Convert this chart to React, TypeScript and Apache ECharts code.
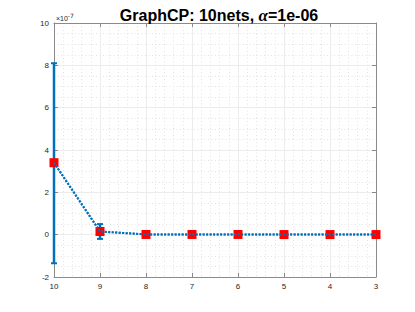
import React, { useEffect, useRef } from "react";
import * as echarts from "echarts";

const xValues = [10, 9, 8, 7, 6, 5, 4, 3];
const means = [3.4, 0.15, 0.01, 0.01, 0.01, 0.005, 0.005, 0.005];
const lowers = [-1.35, -0.2, 0.0, 0.0, 0.0, 0.0, 0.0, 0.0];
const uppers = [8.1, 0.5, 0.02, 0.02, 0.02, 0.01, 0.01, 0.01];
const yTicks = [-2, 0, 2, 4, 6, 8, 10];
const yExponent = "-7";

const BLUE = "#0072BD";
const AXIS = "#262626";

export default function App() {
  const ref = useRef<HTMLDivElement>(null);
  useEffect(() => {
    if (!ref.current) return;
    const chart = echarts.init(ref.current, null, { renderer: "svg" });
    const axisCommon = {
      axisLine: { show: true, onZero: false, lineStyle: { color: "#8a8a8a", width: 1 } },
      axisTick: { show: true, inside: true, length: 4, lineStyle: { color: "#8a8a8a" } },
    };
    const minorStyle = { color: "#e2e2e2", type: [1, 2.5], width: 1 };
    chart.setOption({
      animation: false,
      title: {
        text: "{b|GraphCP: 10nets, }{i|α}{b|=1e-06}",
        left: 214,
        textAlign: "center",
        top: 2,
        textStyle: {
          rich: {
            b: { fontFamily: "Liberation Sans", fontWeight: "bold", fontSize: 16, color: "#000" },
            i: { fontFamily: "Liberation Serif", fontStyle: "italic", fontWeight: "bold", fontSize: 17, color: "#000" },
          },
        },
      },
      grid: { left: 54, right: 39, top: 23, bottom: 35 },
      xAxis: [
        {
          type: "value",
          min: 3,
          max: 10,
          interval: 1,
          inverse: true,
          ...axisCommon,
          axisLabel: { color: AXIS, fontSize: 8, fontFamily: "Liberation Sans", margin: 5 },
          splitLine: { show: true, lineStyle: { color: "#ececec", width: 1 } },
          minorTick: { show: false, splitNumber: 5 },
          minorSplitLine: { show: true, lineStyle: minorStyle },
        },
        {
          type: "value",
          position: "top",
          min: 3,
          max: 10,
          interval: 1,
          inverse: true,
          ...axisCommon,
          axisLabel: { show: false },
          splitLine: { show: false },
        },
      ],
      yAxis: [
        {
          type: "value",
          min: -2,
          max: 10,
          interval: 2,
          ...axisCommon,
          axisLabel: {
            color: AXIS,
            fontSize: 8,
            fontFamily: "Liberation Sans",
            margin: 5,
            formatter: (v: number) => (yTicks.includes(v) ? String(v) : ""),
          },
          splitLine: { show: true, lineStyle: { color: "#ececec", width: 1 } },
          minorTick: { show: false, splitNumber: 4 },
          minorSplitLine: { show: true, lineStyle: minorStyle },
        },
        {
          type: "value",
          position: "right",
          min: -2,
          max: 10,
          interval: 2,
          ...axisCommon,
          axisLabel: { show: false },
          splitLine: { show: false },
        },
      ],
      graphic: [
        {
          type: "text",
          left: 56,
          top: 12,
          style: {
            text: "{a|×10}{s|" + yExponent + "}",
            rich: {
              a: { fontSize: 7, fontFamily: "Liberation Sans", fill: AXIS, verticalAlign: "bottom" },
              s: { fontSize: 6, fontFamily: "DejaVu Sans", fill: AXIS, verticalAlign: "top", padding: [0, 0, 4, 0] },
            },
          },
        },
      ],
      series: [
        {
          type: "custom",
          clip: false,
          z: 3,
          data: xValues.map((x, i) => [x, lowers[i], uppers[i]]),
          renderItem: (params: any, api: any) => {
            const x = api.value(0);
            const lo = api.coord([x, api.value(1)]);
            const hi = api.coord([x, api.value(2)]);
            const cw = 3;
            const st = { stroke: BLUE, lineWidth: 2 };
            return {
              type: "group",
              children: [
                { type: "line", shape: { x1: lo[0], y1: lo[1], x2: hi[0], y2: hi[1] }, style: { ...st, lineWidth: 2.5 } },
                { type: "line", shape: { x1: lo[0] - cw, y1: lo[1], x2: lo[0] + cw, y2: lo[1] }, style: st },
                { type: "line", shape: { x1: hi[0] - cw, y1: hi[1], x2: hi[0] + cw, y2: hi[1] }, style: st },
              ],
            };
          },
        },
        {
          type: "line",
          data: xValues.map((x, i) => [x, means[i]]),
          z: 4,
          symbol: "rect",
          symbolSize: 9,
          showAllSymbol: true,
          lineStyle: { color: BLUE, width: 2, type: [2, 1.5] },
          itemStyle: { color: "#ff0000", borderColor: "#ff0000", borderWidth: 0 },
        },
        {
          type: "line",
          data: xValues.map((x, i) => [x, means[i]]),
          z: 5,
          symbol: "none",
          lineStyle: { color: BLUE, width: 2, type: [2, 1.5] },
          silent: true,
        },
      ],
    });
    return () => chart.dispose();
  }, []);
  return <div ref={ref} style={{ width: 415, height: 312, position: "absolute", left: 0, top: 0, background: "#fff" }} />;
}
